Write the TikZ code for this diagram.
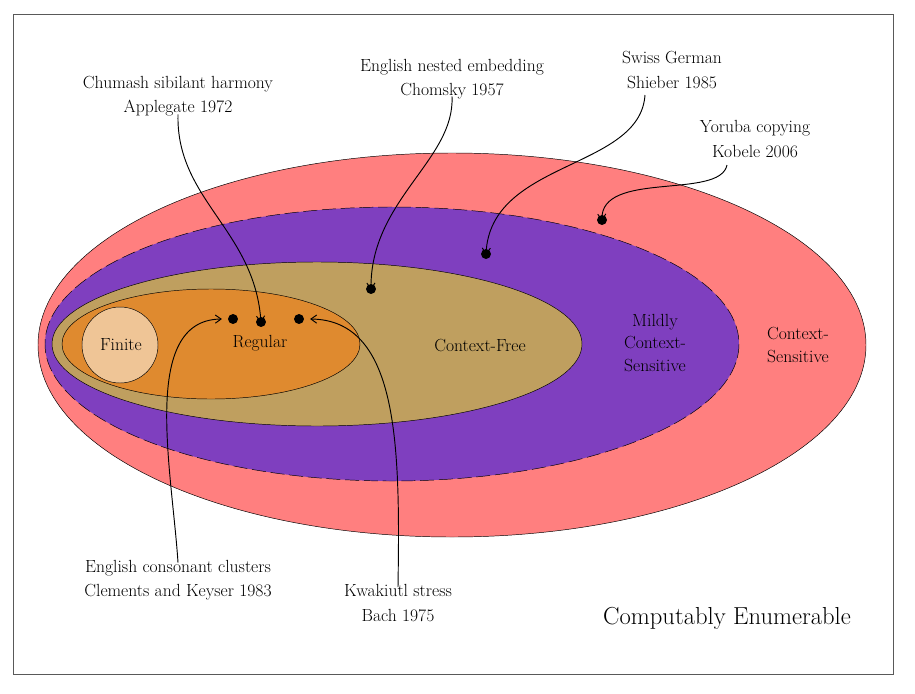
\documentclass[tikz,border=0pt]{standalone}
\usetikzlibrary{arrows.meta}
\definecolor{cred}{HTML}{FF7F7F}
\definecolor{cpur}{HTML}{7F3FBF}
\definecolor{ctan}{HTML}{BF9F5F}
\definecolor{corg}{HTML}{DF8A2F}
\definecolor{cfin}{HTML}{EFC596}
\begin{document}
\begin{tikzpicture}[x=0.03cm,y=-0.03cm,
  lbl/.style={font=\fontsize{15}{21}\selectfont,align=center,inner sep=0pt},
  reg/.style={font=\fontsize{15}{19}\selectfont,align=center,inner sep=0pt},
  dot/.style={circle,fill=black,inner sep=0pt,minimum size=8.5pt},
  arr/.style={-{Straight Barb[length=5pt,width=7pt]},thick}]
\useasboundingbox (0,0) rectangle (915,693);
\draw[gray!70!black] (13,14) rectangle (893,674);
\draw[fill=cred] (452,345) ellipse [x radius=414,y radius=192];
\draw[fill=cpur,dashed,dash pattern=on 12pt off 4pt] (392,344) ellipse [x radius=347,y radius=137];
\draw[fill=ctan] (317,344) ellipse [x radius=265,y radius=82];
\draw[fill=corg] (211,344) ellipse [x radius=149,y radius=55];
\draw[fill=cfin] (120,345) circle [radius=38];
\node[reg] (fin) at (121,345) {Finite};
\node[reg] (regl) at (260,343) {Regular};
\node[reg] (cf) at (480,345) {Context-Free};
\node[reg] (mcs) at (655,343) {Mildly\\Context-\\Sensitive};
\node[reg] (cs) at (798,345) {Context-\\Sensitive};
\node[font=\fontsize{21}{25}\selectfont,inner sep=0pt] (ce) at (727,618) {Computably Enumerable};
\node[dot] (d1) at (233,319) {};
\node[dot] (d2) at (261,322) {};
\node[dot] (d3) at (299,319) {};
\node[dot] (d4) at (371,289) {};
\node[dot] (d5) at (486,254) {};
\node[dot] (d6) at (602,220) {};
\node[lbl] (chu) at (178,96) {Chumash sibilant harmony\\Applegate 1972};
\node[lbl] (eng) at (452,79) {English nested embedding\\Chomsky 1957};
\node[lbl] (sw) at (672,70) {Swiss German\\Shieber 1985};
\node[lbl] (yor) at (755,139) {Yoruba copying\\Kobele 2006};
\node[lbl] (ecc) at (178,580) {English consonant clusters\\Clements and Keyser 1983};
\node[lbl] (kw) at (398,603) {Kwakiutl stress\\Bach 1975};
\draw[arr] (chu.south) ++(0,-2) .. controls (176,200) and (255,230) .. ([yshift=-5pt]d2.north);
\draw[arr] (eng.south) ++(0,-3) .. controls (455,160) and (370,200) .. ([yshift=-5pt]d4.north);
\draw[arr] (645,95) .. controls (640,170) and (490,160) .. ([yshift=-5pt]d5.north);
\draw[arr] (727,165) .. controls (720,200) and (600,170) .. ([yshift=-5pt]d6.north);
\draw[arr] (ecc.north) ++(0,3) .. controls (172,470) and (140,320) .. ([xshift=-5pt]d1.west);
\draw[arr] (kw.north) ++(0,3) .. controls (400,450) and (400,320) .. ([xshift=5pt]d3.east);
\end{tikzpicture}
\end{document}
